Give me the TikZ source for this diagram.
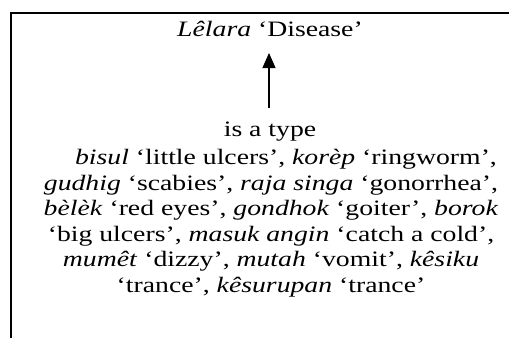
\documentclass[tikz,border=0pt]{standalone}
\usepackage{fontspec}
\setmainfont{Liberation Serif}[FakeStretch=1.26]
\usetikzlibrary{arrows.meta}
\begin{document}
\begin{tikzpicture}[x=1pt,y=1pt,
  txt/.style={inner sep=0pt, anchor=base, font=\fontsize{22}{25.5}\selectfont},
  frame/.style={line width=2pt},
  isarrow/.style={line width=1.2pt, -{Triangle[length=15pt,width=13pt]}}]
\useasboundingbox (0,0) rectangle (509,-338);
\draw[frame] (509,-12.5) -- (10.5,-12.5) -- (10.5,-338);
\node[txt] (title) at (270,-36) {\textit{Lêlara} ‘Disease’};
\node[txt] (isa) at (270,-136) {is a type};
\node[txt, align=center, anchor=base] (body) at (271,-292) {%
\hspace*{30pt}\textit{bisul} ‘little ulcers’, \textit{korèp} ‘ringworm’,\\
\textit{gudhig} ‘scabies’, \textit{raja singa} ‘gonorrhea’,\\
\textit{bèlèk} ‘red eyes’, \textit{gondhok} ‘goiter’, \textit{borok}\\
‘big ulcers’, \textit{masuk angin} ‘catch a cold’,\\
\textit{mumêt} ‘dizzy’, \textit{mutah} ‘vomit’, \textit{kêsiku}\\
‘trance’, \textit{kêsurupan} ‘trance’};
\coordinate (tip) at (269,-53);
\coordinate (tail) at (269,-108);
\draw[isarrow] (tail) -- (tip);
\end{tikzpicture}
\end{document}
